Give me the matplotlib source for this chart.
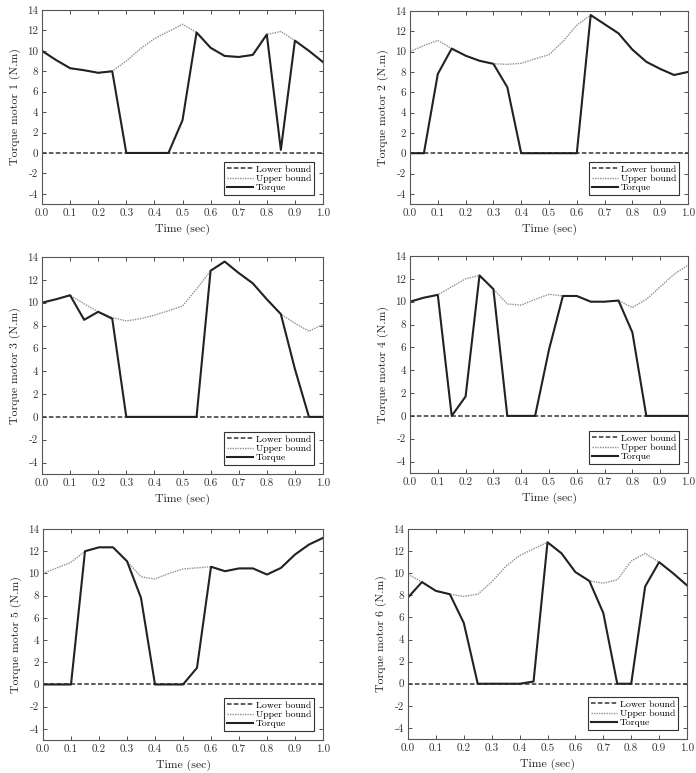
import numpy as np
import matplotlib
matplotlib.use("Agg")
import matplotlib.pyplot as plt

plt.rcParams["font.family"] = ["cmr10", "DejaVu Serif"]
plt.rcParams["axes.unicode_minus"] = False
plt.rcParams["axes.formatter.use_mathtext"] = False

# time grid (sec)
t = [0.0, 0.05, 0.1, 0.15, 0.2, 0.25, 0.3, 0.35, 0.4, 0.45, 0.5,
     0.55, 0.6, 0.65, 0.7, 0.75, 0.8, 0.85, 0.9, 0.95, 1.0]

# motor 1
upper1 = [10.0, 9.1, 8.3, 8.1, 7.85, 8.0, 9.0, 10.2, 11.2, 11.9, 12.6,
          11.8, 10.3, 9.5, 9.4, 9.6, 11.6, 11.9, 11.0, 10.0, 8.9]
torque1 = [10.0, 9.1, 8.3, 8.1, 7.85, 8.0, 0.0, 0.0, 0.0, 0.0, 3.2,
           11.8, 10.3, 9.5, 9.4, 9.6, 11.6, 0.3, 11.0, 10.0, 8.9]
# motor 2
upper2 = [10.0, 10.6, 11.1, 10.3, 9.6, 9.1, 8.8, 8.75, 8.85, 9.3, 9.7,
          11.0, 12.6, 13.6, 12.7, 11.8, 10.2, 9.0, 8.3, 7.7, 8.0]
torque2 = [0.0, 0.0, 7.8, 10.3, 9.6, 9.1, 8.8, 6.5, 0.0, 0.0, 0.0,
           0.0, 0.0, 13.6, 12.7, 11.8, 10.2, 9.0, 8.3, 7.7, 8.0]
# motor 3
upper3 = [10.0, 10.3, 10.65, 9.9, 9.2, 8.7, 8.4, 8.6, 8.9, 9.3, 9.7,
          11.2, 12.8, 13.6, 12.6, 11.7, 10.3, 9.0, 8.2, 7.5, 8.1]
torque3 = [10.0, 10.3, 10.65, 8.5, 9.2, 8.6, 0.0, 0.0, 0.0, 0.0, 0.0,
           0.0, 12.8, 13.6, 12.6, 11.7, 10.3, 9.0, 4.2, 0.0, 0.0]
# motor 4
upper4 = [10.0, 10.35, 10.6, 11.3, 12.0, 12.3, 11.1, 9.8, 9.7, 10.2, 10.65,
          10.5, 10.5, 10.0, 10.0, 10.1, 9.5, 10.2, 11.3, 12.4, 13.2]
torque4 = [10.0, 10.35, 10.6, 0.0, 1.7, 12.3, 11.1, 0.0, 0.0, 0.0, 5.8,
           10.5, 10.5, 10.0, 10.0, 10.1, 7.3, 0.0, 0.0, 0.0, 0.0]
# motor 5
upper5 = [10.0, 10.5, 11.0, 12.0, 12.35, 12.35, 11.1, 9.7, 9.5, 10.0, 10.4,
          10.5, 10.6, 10.2, 10.45, 10.45, 9.9, 10.5, 11.7, 12.6, 13.2]
torque5 = [0.0, 0.0, 0.0, 12.0, 12.35, 12.35, 11.1, 7.8, 0.0, 0.0, 0.0,
           1.5, 10.6, 10.2, 10.45, 10.45, 9.9, 10.5, 11.7, 12.6, 13.2]
# motor 6
upper6 = [9.9, 9.2, 8.4, 8.1, 7.9, 8.1, 9.2, 10.6, 11.6, 12.2, 12.8,
          11.8, 10.1, 9.3, 9.1, 9.4, 11.1, 11.8, 11.0, 10.0, 8.9]
torque6 = [7.8, 9.2, 8.4, 8.1, 5.5, 0.0, 0.0, 0.0, 0.0, 0.2, 12.8,
           11.8, 10.1, 9.3, 6.4, 0.0, 0.0, 8.8, 11.0, 10.0, 8.9]

uppers = [upper1, upper2, upper3, upper4, upper5, upper6]
torques = [torque1, torque2, torque3, torque4, torque5, torque6]
lower = [0.0] * len(t)

W, H = 696, 773
# axes boxes in pixels: left, right, top, bottom
boxes = [(42, 323, 10, 204), (410, 688, 11, 204),
         (42, 323, 257, 474), (410, 688, 256, 473),
         (43, 323, 529, 740), (408, 687, 529, 739)]

fig = plt.figure(figsize=(W / 100, H / 100), dpi=100)

for i, (l, r, tp, b) in enumerate(boxes):
    ax = fig.add_axes([l / W, 1 - b / H, (r - l) / W, (b - tp) / H])
    ax.plot(t, lower, ls=(0, (3, 1.5)), c="#333333", lw=1.1, label="Lower bound")
    ax.plot(t, uppers[i], ls=(0, (1, 0.8)), c="#909090", lw=1.0, label="Upper bound")
    ax.plot(t, torques[i], ls="-", c="#222222", lw=1.5, label="Torque")
    ax.set_xlim(0, 1)
    ax.set_ylim(-5, 14)
    ax.set_xticks(np.arange(0, 1.01, 0.1))
    ax.set_xticklabels([f"{v:.1f}" for v in np.arange(0, 1.01, 0.1)])
    ax.set_yticks(range(-4, 15, 2))
    ax.tick_params(direction="in", length=3, width=0.6, top=True, right=True,
                   labelsize=8, colors="#333333", pad=3)
    for s in ax.spines.values():
        s.set_color("#555555")
        s.set_linewidth(0.8)
    ax.set_xlabel("Time (sec)", fontsize=8.5, color="#222222")
    ax.set_ylabel(f"Torque motor {i + 1} (N.m)", fontsize=8.5, color="#222222")
    leg = ax.legend(loc="lower right", fontsize=7, handlelength=2.7,
                    handletextpad=0.3, labelspacing=0.05, borderpad=0.3,
                    borderaxespad=0.9, fancybox=False, framealpha=1)
    leg.get_frame().set_edgecolor("#333333")
    leg.get_frame().set_linewidth(0.8)

fig.savefig("out.png", dpi=100)
